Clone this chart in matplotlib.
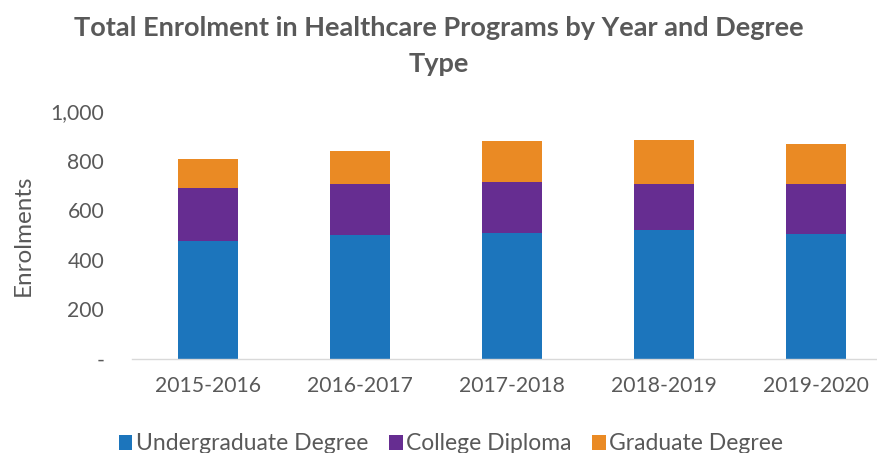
import matplotlib
matplotlib.use("Agg")
import matplotlib.pyplot as plt
from matplotlib.ticker import FuncFormatter

categories = ["2015-2016", "2016-2017", "2017-2018", "2018-2019", "2019-2020"]
undergrad = [476, 500, 507, 521, 503]
diploma = [212, 206, 205, 183, 204]
graduate = [118, 133, 167, 180, 161]
series_names = ["Undergraduate Degree", "College Diploma", "Graduate Degree"]
colors = ["#1C75BC", "#662D91", "#EA8A24"]

plt.rcParams['font.family'] = ['Lato', 'DejaVu Sans']
grey = "#595959"

fig = plt.figure(figsize=(8.78, 4.53), dpi=100)
W, H = 878, 453
ax = fig.add_axes([132 / W, (H - 359) / H, 760 / W, 248 / H])

x = list(range(len(categories)))
bw = 0.395
bottom2 = [u + d for u, d in zip(undergrad, diploma)]
ax.bar(x, undergrad, bw, color=colors[0], label=series_names[0], zorder=2)
ax.bar(x, diploma, bw, bottom=undergrad, color=colors[1], label=series_names[1], zorder=2)
ax.bar(x, graduate, bw, bottom=bottom2, color=colors[2], label=series_names[2], zorder=2)

ax.set_xlim(-0.5, 4.5)
ax.set_ylim(0, 1000)
ax.set_yticks([0, 200, 400, 600, 800, 1000])
ax.yaxis.set_major_formatter(FuncFormatter(lambda v, p: "-" if v == 0 else f"{int(v):,}"))
ax.set_xticks(x)
ax.set_xticklabels(categories)

for s in ["top", "right", "left"]:
    ax.spines[s].set_visible(False)
ax.spines["bottom"].set_color("#D9D9D9")
ax.spines["bottom"].set_linewidth(1.0)
ax.tick_params(axis="both", length=0, colors=grey, labelsize=15.2)
ax.tick_params(axis="x", pad=12)
ax.tick_params(axis="y", pad=20)

ax.set_ylabel("Enrolments", color=grey, fontsize=17.5, labelpad=12)

fig.text(0.5, 1 - 46 / H, "Total Enrolment in Healthcare Programs by Year and Degree\nType",
         ha="center", va="center", fontsize=19.5, fontweight="bold", color=grey, linespacing=1.55)

leg = fig.legend(loc="center", bbox_to_anchor=(451 / W, 1 - 444 / H), ncol=3, frameon=False,
                 fontsize=16.5, handlelength=0.6, handleheight=0.6, handletextpad=0.15,
                 columnspacing=0.9, labelcolor=grey)

fig.savefig("out.png", dpi=100)
